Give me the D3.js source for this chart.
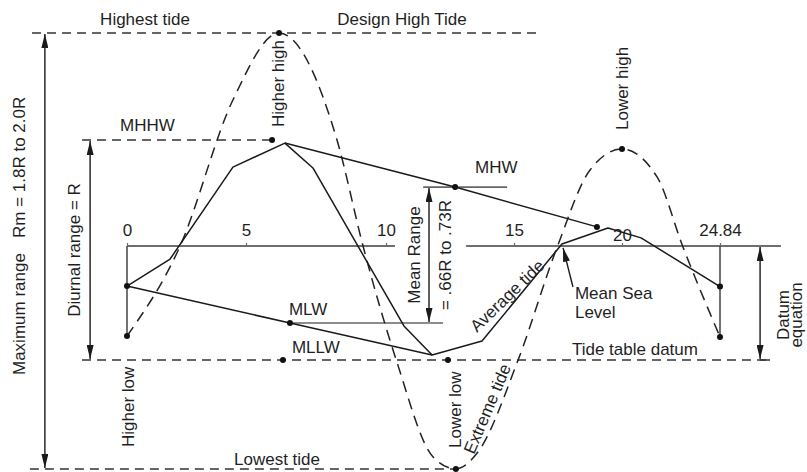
<!DOCTYPE html>
<html><head><meta charset="utf-8">
<script src="https://cdn.jsdelivr.net/npm/d3@7"></script>
<style>
body{margin:0;background:#fff}
text{font-family:"Liberation Sans",Arial,Helvetica,sans-serif;fill:#1f1f1f;font-size:17px}
</style></head><body>
<svg id="c" width="807" height="472"></svg>
<script>
// ---------------- data (hours after start, water level in units of R/10 above tide table datum)
const hourTicks = [0, 5, 10, 15, 20, 24.84];
const tickLabels = ["0", "5", "10", "15", "20", "24.84"];
const levelNames = ["Highest tide", "MHHW", "MHW", "MSL", "MLW", "MLLW", "Lowest tide"];
const levelValues = [14.86, 10, 7.86, 5.18, 1.68, 0, -4.95];

const averageHours  = [0, 1.81, 4.45, 6.39, 7.39, 10.70, 11.80, 13.75, 17.22, 19.35, 20.94, 24.84];
const averageLevels = [3.36, 4.59, 8.77, 9.86, 8.73, 1.55, 0.23, 0.86, 5.27, 6.00, 5.55, 3.34];

const extremeHours  = [0, 2.23, 4.45, 6.18, 8.25, 9.18, 10.40, 11.84, 12.73, 13.59, 15.19, 17.00, 18.52, 20.00, 21.73, 23.01, 24.84];
const extremeLevels = [1.09, 5.18, 11.82, 14.86, 10.00, 5.18, 0.00, -4.41, -4.95, -4.18, 0.00, 5.14, 8.64, 9.59, 8.32, 5.14, 1.05];

const highWaterHours  = [6.39, 12.70, 18.84];
const highWaterLevels = [9.86, 7.86, 6.05];
const lowWaterHours   = [0, 6.57, 11.80];
const lowWaterLevels  = [3.36, 1.68, 0.23];

const pointHours  = [6.18, 5.93, 20.00, 12.70, 18.84, 0, 0, 6.57, 6.32, 12.42, 12.73, 24.84, 24.84];
const pointLevels = [14.86, 10.00, 9.59, 7.86, 6.05, 3.36, 1.09, 1.68, 0, 0, -4.95, 3.34, 1.05];

// extents (hours) of the reference lines
const dashedLevels = ["Highest tide", "MHHW", "MLLW", "Lowest tide"];
const dashedFrom   = [-3.99, -1.89, -1.89, -4.08];
const dashedTo     = [16.30, 5.93, 27.31, 12.86];
const solidLevels  = ["MHW", "MLW"];
const solidFrom    = [11.45, 6.57];
const solidTo      = [14.73, 12.23];
const axisFrom     = [0, 13.13];
const axisTo       = [10.35, 27.85];

// range arrows
const arrowNames  = ["Maximum range", "Diurnal range", "Mean range", "Datum equation"];
const arrowHours  = [-3.45, -1.55, 11.68, 26.82];
const arrowTop    = ["Highest tide", "MHHW", "MHW", "MSL"];
const arrowBottom = ["Lowest tide", "MLLW", "MLW", "MLLW"];

// ---------------- drawing
const lv = n => levelValues[levelNames.indexOf(n)];
const svg = d3.select("#c");
const x = d3.scaleLinear().domain(hourTicks).range([127, 246, 386, 514, 622, 720]);
const y = d3.scaleLinear().domain([0, 10]).range([360, 140]);

const ink = "#1a1a1a";
const defs = svg.append("defs");
defs.append("marker").attr("id", "ah").attr("viewBox", "0 0 14 7")
  .attr("refX", 14).attr("refY", 3.5).attr("markerWidth", 14).attr("markerHeight", 7)
  .attr("markerUnits", "userSpaceOnUse").attr("orient", "auto-start-reverse")
  .append("path").attr("d", "M0,0 L14,3.5 L0,7 Z").attr("fill", ink);

// axis (broken) with ticks
const axisG = svg.append("g").attr("transform", `translate(0,${y(lv("MSL"))})`);
axisG.call(d3.axisTop(x).tickValues(hourTicks).tickSize(3).tickSizeOuter(0)
  .tickFormat((d, i) => tickLabels[i]).tickPadding(6));
axisG.select(".domain").remove();
axisG.selectAll(".tick line").attr("stroke", "#666").attr("stroke-width", 1.2);
axisG.selectAll(".tick text").attr("font-size", 17).attr("fill", "#1f1f1f")
  .attr("font-family", '"Liberation Sans",Arial,sans-serif')
  .attr("dy", (d, i) => tickLabels[i] === "20" ? "0.25em" : "-0.05em");
axisG.selectAll(".seg").data(axisFrom).enter().append("line")
  .attr("x1", d => x(d)).attr("x2", (d, i) => x(axisTo[i]))
  .attr("stroke", "#6e6e6e").attr("stroke-width", 2);

// dashed reference lines
svg.selectAll(".dref").data(dashedLevels).enter().append("line")
  .attr("x1", (d, i) => x(dashedFrom[i])).attr("x2", (d, i) => x(dashedTo[i]))
  .attr("y1", d => y(lv(d))).attr("y2", d => y(lv(d)))
  .attr("stroke", "#333").attr("stroke-width", 1.5).attr("stroke-dasharray", "9,6");
svg.selectAll(".sref").data(solidLevels).enter().append("line")
  .attr("x1", (d, i) => x(solidFrom[i])).attr("x2", (d, i) => x(solidTo[i]))
  .attr("y1", d => y(lv(d))).attr("y2", d => y(lv(d)))
  .attr("stroke", "#666").attr("stroke-width", 1.6);

// verticals at start and end of tidal day
[0, 24.84].forEach((h, i) => {
  svg.append("line").attr("x1", x(h)).attr("x2", x(h))
    .attr("y1", y(lv("MSL"))).attr("y2", y(i === 0 ? extremeLevels[0] : extremeLevels[extremeLevels.length - 1]))
    .attr("stroke", "#444").attr("stroke-width", 1.5);
});

// extreme tide dashed curve
const curveLine = d3.line().x(d => x(d[0])).y(d => y(d[1])).curve(d3.curveMonotoneX);
svg.append("path").datum(extremeHours.map((h, i) => [h, extremeLevels[i]]))
  .attr("d", curveLine).attr("fill", "none").attr("stroke", "#222")
  .attr("stroke-width", 1.5).attr("stroke-dasharray", "11,7");

// average tide + diurnal lines
const poly = d3.line().x(d => x(d[0])).y(d => y(d[1]));
[[averageHours, averageLevels], [highWaterHours, highWaterLevels], [lowWaterHours, lowWaterLevels]]
  .forEach(([hs, ls]) => {
    svg.append("path").datum(hs.map((h, i) => [h, ls[i]])).attr("d", poly)
      .attr("fill", "none").attr("stroke", ink).attr("stroke-width", 1.5).attr("stroke-linejoin", "round");
  });

// points
svg.selectAll(".pt").data(pointHours).enter().append("circle")
  .attr("cx", d => x(d)).attr("cy", (d, i) => y(pointLevels[i])).attr("r", 3).attr("fill", "#111");

// range arrows
svg.selectAll(".arr").data(arrowNames).enter().append("line")
  .attr("x1", (d, i) => x(arrowHours[i])).attr("x2", (d, i) => x(arrowHours[i]))
  .attr("y1", (d, i) => y(lv(arrowTop[i])) + 1).attr("y2", (d, i) => y(lv(arrowBottom[i])) - 1)
  .attr("stroke", ink).attr("stroke-width", 1.4)
  .attr("marker-start", "url(#ah)").attr("marker-end", "url(#ah)");

// short solid end of datum line
svg.append("line").attr("x1", x(26.82)).attr("x2", x(27.31))
  .attr("y1", y(0)).attr("y2", y(0)).attr("stroke", "#333").attr("stroke-width", 1.5);

// mean sea level pointer
svg.append("line").attr("x1", x(17.73)).attr("y1", y(3.32)).attr("x2", x(17.27)).attr("y2", y(5.1))
  .attr("stroke", ink).attr("stroke-width", 1.4).attr("marker-end", "url(#ah)");

// ---------------- labels
function label(t, px, py, opt = {}) {
  const el = svg.append("text").attr("x", px).attr("y", py).text(t);
  if (opt.anchor) el.attr("text-anchor", opt.anchor);
  if (opt.size) el.attr("font-size", opt.size);
  if (opt.rot !== undefined) el.attr("transform", `rotate(${opt.rot},${px},${py})`);
  return el;
}
const yHi = y(lv("Highest tide")), yLo = y(lv("Lowest tide"));
label("Highest tide", x(0) + 18, yHi - 8, {anchor: "middle"});
label("Design High Tide", x(10) + 16, yHi - 8, {anchor: "middle"});
label("Higher high", x(6.18) + 5, y(10) - 13, {rot: -90, size: 16.5});
label("Lower high", x(20) + 6, y(9.59) - 19, {rot: -90});
label("MHHW", x(0) - 7, y(10) - 9, {size: 16.5});
label("MHW", x(12.70) + 20, y(lv("MHW")) - 14, {size: 16.5});
label("MLW", x(6.57) - 1, y(lv("MLW")) - 8, {size: 16.5});
label("MLLW", x(6.32) + 9, y(0) - 7, {size: 16.5});
const mrMid = (y(lv("MHW")) + y(lv("MLW"))) / 2;
label("Mean Range", x(11.68) - 9, mrMid, {rot: -90, anchor: "middle", size: 16});
label("= .66R to .73R", x(11.68) + 22, mrMid, {rot: -90, anchor: "middle", size: 14.5});
label("Diurnal range = R", x(-1.55) - 10, (y(10) + y(0)) / 2, {rot: -90, anchor: "middle"});
label("Maximum range", x(-3.45) - 20, 375, {rot: -90});
label("Rm = 1.8R to 2.0R", x(-3.45) - 20, 238, {rot: -90});
label("Higher low", x(0) + 7, y(0) + 87, {rot: -90});
label("Lower low", x(12.42) + 13, y(0) + 88, {rot: -90});
label("Extreme tide", 474, 455, {rot: -67});
label("Average tide", 477, 333, {rot: -44});
label("Mean Sea", x(17.73) + 2, y(0) - 61, {size: 15.5});
label("Level", x(17.73) + 2, y(0) - 42, {size: 15.5});
label("Tide table datum", x(17.73) - 1, y(0) - 5, {size: 16.5});
label("Datum", x(26.82) + 29, 315, {rot: -90, anchor: "middle", size: 16.5});
label("equation", x(26.82) + 42, 315, {rot: -90, anchor: "middle", size: 16.5});
label("Lowest tide", 277, yLo - 4, {anchor: "middle", size: 16.5});
</script>
</body></html>
